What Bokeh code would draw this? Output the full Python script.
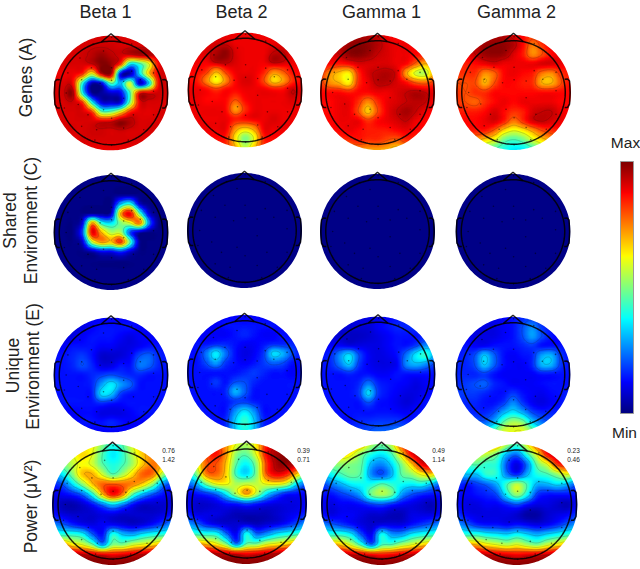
import numpy as np
from bokeh.plotting import figure
from bokeh.models import Range1d, LinearColorMapper, ColorBar, FixedTicker
from bokeh.core.properties import value
from bokeh.embed import file_html
from bokeh.resources import INLINE

COLUMN_TITLES = ["Beta 1", "Beta 2", "Gamma 1", "Gamma 2"]
ROW_LABELS = [["Genes (A)"], ["Shared", "Environment (C)"], ["Unique", "Environment (E)"], ["Power (μV²)"]]
POWER_SCALE = [["0.76", "1.42"], ["0.39", "0.71"], ["0.49", "1.14"], ["0.23", "0.46"]]
BAR_LABELS = ["Max", "Min"]

A_BETA1 = [
 [91,91,91,91,91,91,91,91,91,91,91,91,91],
 [91,91,91,91,92,92,92,91,91,91,91,91,91],
 [91,91,91,92,94,97,94,92,92,95,94,92,91],
 [91,91,91,91,92,99,97,80,35,42,60,88,91],
 [89,89,89,83,60,91,95,12,5,35,68,90,91],
 [91,91,88,40,5,10,45,30,58,8,35,88,91],
 [91,92,96,40,3,3,8,12,45,88,90,92,91],
 [91,91,92,83,40,10,8,10,50,89,91,91,91],
 [91,91,91,91,83,50,50,65,85,90,90,91,91],
 [91,91,91,91,91,91,92,98,95,91,91,91,91],
 [91,91,91,91,92,92,91,92,91,91,91,91,91],
 [89,89,89,91,91,91,91,91,91,91,89,89,89],
 [89,89,89,89,89,89,89,89,89,89,89,89,89]]
A_BETA2 = [
 [89,89,89,89,89,89,89,89,89,89,89,89,89],
 [89,89,89,91,91,89,89,89,89,89,89,89,89],
 [89,89,91,95,98,91,89,89,89,93,93,89,89],
 [89,89,89,95,95,91,89,89,89,95,93,89,89],
 [87,87,83,72,83,89,89,89,85,76,80,87,87],
 [87,85,74,62,74,87,91,89,80,66,72,83,87],
 [89,89,87,83,87,87,89,89,89,87,87,93,89],
 [89,89,87,87,87,80,87,89,89,89,89,91,89],
 [89,89,89,89,87,72,83,89,89,89,89,89,89],
 [89,89,89,89,89,85,87,89,89,91,89,89,89],
 [89,89,89,89,89,74,68,74,89,89,89,89,89],
 [87,87,87,87,85,65,50,62,85,87,87,87,87],
 [83,83,83,83,83,70,56,68,83,83,83,83,83]]
A_GAMMA1 = [
 [91,91,91,93,95,95,93,89,87,87,87,87,87],
 [91,91,93,97,99,98,95,91,89,89,87,87,87],
 [91,91,93,98,99,97,93,91,89,89,87,85,83],
 [89,87,85,87,91,91,91,91,89,87,78,70,78],
 [83,74,68,64,83,91,94,95,91,72,58,56,72],
 [83,74,70,64,83,89,94,94,91,87,80,78,83],
 [87,87,87,85,87,87,89,89,91,93,95,93,89],
 [87,87,89,89,83,74,83,89,91,93,94,93,87],
 [87,87,89,89,80,68,80,89,93,96,93,89,87],
 [87,87,89,89,89,83,87,89,91,93,89,87,87],
 [87,87,87,89,87,85,85,85,87,89,87,87,87],
 [83,83,83,83,85,83,83,80,78,83,83,83,83],
 [74,74,74,74,74,72,72,70,66,70,74,74,74]]
A_GAMMA2 = [
 [89,89,91,93,95,95,91,87,83,87,87,87,87],
 [89,91,93,97,98,98,95,87,76,83,89,87,87],
 [87,89,93,97,98,97,91,85,74,80,87,89,87],
 [85,85,87,89,91,89,89,89,89,91,91,89,87],
 [83,83,83,74,78,87,89,87,85,76,74,83,85],
 [80,80,80,70,80,87,87,85,83,70,70,80,87],
 [83,80,83,83,87,87,87,87,87,87,87,87,87],
 [83,80,78,83,87,89,87,89,89,89,89,87,87],
 [85,85,85,87,91,87,83,85,91,93,93,89,87],
 [87,87,87,89,91,85,76,83,91,93,91,89,87],
 [85,85,85,85,78,66,60,64,72,80,83,85,85],
 [80,76,72,66,60,48,44,48,58,66,72,76,80],
 [64,60,56,50,44,40,36,36,42,50,58,62,64]]
C_BETA1 = [
 [1,1,1,1,1,1,1,1,1,1,1,1,1],
 [1,1,1,1,1,1,1,1,1,1,1,1,1],
 [1,1,1,1,1,1,1,1,1,1,1,1,1],
 [1,1,1,1,1,1,1,30,40,8,1,1,1],
 [1,1,1,1,1,1,6,70,88,45,8,1,1],
 [1,1,1,10,70,40,35,50,60,75,25,1,1],
 [1,1,1,20,88,70,55,55,20,5,1,1,1],
 [1,1,1,8,55,72,68,82,45,3,1,1,1],
 [1,1,1,1,5,12,12,18,8,1,1,1,1],
 [1,1,1,1,1,1,1,1,1,1,1,1,1],
 [1,1,1,1,1,1,1,1,1,1,1,1,1],
 [1,1,1,1,1,1,1,1,1,1,1,1,1],
 [1,1,1,1,1,1,1,1,1,1,1,1,1]]
C_FLAT_ROW = [1,1,1,1,1,1,1,1,1,1,1,1,1]
C_BETA2 = [C_FLAT_ROW] * 13
C_GAMMA1 = [C_FLAT_ROW] * 13
C_GAMMA2 = [C_FLAT_ROW] * 13
E_BETA1 = [
 [12,12,12,12,12,12,12,12,12,12,12,12,12],
 [12,12,10,10,12,14,14,14,14,12,12,12,12],
 [12,10,10,12,14,14,14,12,10,12,12,12,12],
 [12,12,14,14,14,12,12,10,10,12,14,14,12],
 [14,14,16,18,14,8,8,9,12,20,22,16,14],
 [14,14,16,20,16,10,10,14,14,24,22,16,14],
 [14,14,14,14,16,18,20,18,16,16,14,14,14],
 [14,14,14,14,16,28,36,28,22,14,14,14,14],
 [14,14,14,14,15,34,32,18,14,14,14,14,14],
 [14,14,14,14,14,16,14,13,14,14,14,14,14],
 [12,12,12,13,13,10,10,10,12,14,14,14,14],
 [12,12,12,14,14,14,16,14,12,12,12,12,12],
 [12,12,12,12,12,12,12,12,12,12,12,12,12]]
E_BETA2 = [
 [12,12,12,12,12,12,12,12,12,12,12,12,12],
 [12,12,12,12,14,14,14,14,14,14,12,12,12],
 [12,12,12,12,12,14,16,14,12,12,14,12,12],
 [12,14,14,16,16,14,12,12,14,16,16,16,12],
 [14,14,24,36,24,14,10,12,18,34,30,20,14],
 [14,14,20,28,18,14,12,14,18,22,20,14,14],
 [14,14,14,14,14,14,16,18,16,14,14,12,14],
 [14,14,14,18,14,20,20,16,14,14,14,14,14],
 [14,14,14,14,16,30,22,14,14,14,14,14,14],
 [14,14,14,14,14,18,18,15,14,14,14,14,14],
 [12,14,14,14,14,26,34,26,14,14,14,14,12],
 [12,14,14,14,16,32,42,32,16,14,14,14,12],
 [12,14,14,14,16,32,40,32,16,14,14,14,12]]
E_GAMMA1 = [
 [10,10,10,10,10,10,10,12,14,16,18,18,18],
 [10,10,10,9,9,9,12,14,16,16,18,18,18],
 [10,10,8,7,7,8,10,12,14,14,14,16,18],
 [12,12,12,10,10,10,10,12,14,14,18,26,26],
 [14,16,26,34,20,12,10,11,14,24,36,42,28],
 [14,16,24,32,18,12,10,10,12,26,30,26,18],
 [14,14,14,16,14,14,12,12,14,14,14,14,14],
 [14,14,14,14,16,24,16,14,13,12,10,12,14],
 [14,14,14,14,18,34,18,14,12,10,10,12,14],
 [14,14,14,14,14,20,14,13,11,9,11,14,14],
 [16,14,14,14,14,14,14,14,13,12,14,14,16],
 [18,16,14,14,16,17,18,18,18,16,14,16,18],
 [22,20,18,18,18,20,22,22,24,22,18,20,22]]
E_GAMMA2 = [
 [12,12,12,12,12,12,14,16,18,16,14,12,12],
 [12,12,10,10,10,12,14,20,26,18,14,12,12],
 [12,12,10,10,10,12,14,20,28,20,14,12,12],
 [14,14,12,12,14,14,14,16,18,14,14,14,14],
 [14,16,20,32,22,14,12,14,16,28,30,18,14],
 [16,16,20,32,22,14,12,12,16,30,30,18,14],
 [16,16,16,18,14,12,12,12,12,14,14,14,14],
 [16,18,20,22,16,14,12,12,12,13,14,14,14],
 [18,18,18,16,14,14,18,14,12,11,13,14,16],
 [18,16,16,14,14,18,26,18,12,10,12,14,18],
 [20,18,16,16,20,30,36,30,20,16,16,16,20],
 [26,24,22,22,30,46,54,50,34,24,20,20,26],
 [32,28,28,34,46,58,60,60,50,36,26,26,32]]
P_BETA1 = [
 [50,50,52,60,62,50,40,45,60,70,75,75,70],
 [48,50,58,66,60,45,36,42,56,68,74,76,70],
 [40,48,56,62,58,46,40,44,54,68,76,70,60],
 [28,36,50,68,70,58,46,54,66,78,76,54,38],
 [16,20,34,50,68,78,80,78,74,66,50,26,18],
 [10,12,15,22,40,68,86,75,46,30,20,14,10],
 [10,6,5,8,14,24,34,26,14,8,8,8,10],
 [14,10,8,8,8,10,10,8,8,8,8,10,14],
 [26,22,16,12,10,12,12,10,8,10,14,20,28],
 [44,42,42,38,22,14,40,32,30,36,40,42,44],
 [70,75,65,60,48,28,50,50,58,62,66,72,72],
 [97,97,96,94,92,90,88,90,92,94,96,97,97],
 [99,99,99,99,99,99,99,99,99,99,99,99,99]]
P_BETA2 = [
 [60,65,80,82,72,60,55,65,85,92,92,88,80],
 [55,65,80,86,72,52,48,62,88,96,98,96,84],
 [46,60,78,80,68,46,38,52,82,96,98,92,72],
 [36,50,76,78,66,42,34,50,80,90,86,70,50],
 [22,30,50,62,62,54,56,56,62,64,58,36,22],
 [12,14,18,24,38,56,72,56,36,24,16,14,12],
 [12,8,8,10,14,16,20,16,12,10,10,10,12],
 [16,10,10,10,8,6,6,6,6,8,10,12,16],
 [28,22,14,10,8,8,8,6,8,10,14,20,28],
 [46,42,40,38,22,12,38,22,26,34,38,42,46],
 [72,72,68,62,48,24,46,48,58,62,66,72,72],
 [97,97,96,94,92,90,88,90,92,94,96,97,97],
 [99,99,99,99,99,99,99,99,99,99,99,99,99]]
P_GAMMA1 = [
 [62,64,68,72,68,54,48,56,80,90,94,90,80],
 [55,58,66,62,50,40,36,44,66,88,96,92,80],
 [44,50,52,50,46,30,26,34,50,68,88,90,70],
 [32,38,44,48,44,26,20,30,46,52,62,66,50],
 [18,24,30,36,38,40,46,42,38,36,38,30,20],
 [14,14,18,22,30,48,54,48,28,20,16,14,14],
 [12,10,12,12,14,18,20,16,12,10,8,6,12],
 [14,10,12,12,10,8,8,6,6,10,10,10,14],
 [26,22,18,14,10,8,10,10,10,14,18,22,28],
 [44,42,42,36,20,12,38,28,28,36,40,42,44],
 [70,72,68,58,42,24,44,46,54,60,66,70,72],
 [96,96,95,93,91,88,86,88,91,93,96,97,97],
 [99,99,99,99,99,99,99,99,99,99,99,99,99]]
P_GAMMA2 = [
 [58,62,68,74,70,54,44,60,80,90,92,86,70],
 [50,54,58,56,48,30,24,42,62,86,94,90,76],
 [40,44,46,42,40,20,10,24,48,60,82,84,62],
 [28,32,32,42,40,24,16,30,40,44,52,60,48],
 [18,14,18,22,30,44,56,44,30,30,34,30,20],
 [14,12,14,16,20,38,52,38,18,14,14,14,14],
 [14,10,10,12,12,16,20,14,10,10,8,6,12],
 [18,12,10,10,10,10,8,4,4,8,10,12,18],
 [28,22,16,14,14,12,14,12,10,12,16,22,28],
 [44,42,42,38,36,34,38,34,30,34,38,42,44],
 [70,72,70,64,60,56,60,54,50,58,64,70,70],
 [96,96,95,93,91,90,88,90,91,93,96,97,97],
 [99,99,99,99,99,99,99,99,99,99,99,99,99]]

ELECTRODE_X = [0.01,-0.31,0.36,-0.54,-0.13,0.01,-0.34,0.36,-0.75,-0.51,0.51,0.74,0.01,-0.19,0.22,0.74,-0.78,-0.57,-0.13,0.22,-0.40,0.01,0.39,0.74,-0.51,-0.25,0.22,0.57,0.01,-0.28,0.30,-0.81]
ELECTRODE_Y = [0.97,0.85,0.85,0.61,0.73,0.44,0.44,0.38,0.35,0.23,0.23,0.35,0.22,0.17,0.20,0.03,0.0,-0.20,-0.29,-0.09,-0.38,-0.44,-0.38,-0.38,-0.58,-0.64,-0.61,-0.64,-0.91,-0.82,-0.82,-0.26]

GRIDS = [[A_BETA1, A_BETA2, A_GAMMA1, A_GAMMA2],
         [C_BETA1, C_BETA2, C_GAMMA1, C_GAMMA2],
         [E_BETA1, E_BETA2, E_GAMMA1, E_GAMMA2],
         [P_BETA1, P_BETA2, P_GAMMA1, P_GAMMA2]]

# layout (reference pixels): map centres and radii
CENTERS = [[(110.5, 92.5), (244.5, 89.5), (377, 92), (513, 92)],
           [(110.5, 232), (244, 230), (377, 231), (512.5, 231)],
           [(110.5, 374.5), (244, 372), (377.5, 373.5), (512.5, 374)],
           [(112, 504), (246, 503), (381, 504), (516.5, 504)]]
RADII = [57.5, 57.5, 57.5, 60.5]
W, H = 640, 569


def jet_palette(n=256):
    t = np.linspace(0, 1, n)
    r = np.clip(np.minimum(4 * t - 1.5, -4 * t + 4.5), 0, 1)
    g = np.clip(np.minimum(4 * t - 0.5, -4 * t + 3.5), 0, 1)
    b = np.clip(np.minimum(4 * t + 0.5, -4 * t + 2.5), 0, 1)
    return ["#%02x%02x%02x" % (int(a * 255), int(c * 255), int(d * 255)) for a, c, d in zip(r, g, b)]


def spline_matrix(n_out, n_in=13):
    t = np.linspace(0, n_in - 1, n_out)
    m = np.zeros((n_out, n_in))
    for k, tk in enumerate(t):
        i = min(int(tk), n_in - 2)
        f = tk - i
        ws = [(-f**3 + 2*f*f - f) / 2, (3*f**3 - 5*f*f + 2) / 2, (-3*f**3 + 4*f*f + f) / 2, (f**3 - f*f) / 2]
        for off, wt in zip((-1, 0, 1, 2), ws):
            m[k, int(np.clip(i + off, 0, n_in - 1))] += wt
    return m


def disk_field(grid, n=201):
    m = spline_matrix(n)
    z = np.clip(m @ np.array(grid, float) @ m.T, 0, 100)
    c = np.linspace(-1, 1, n)
    z = z[::-1].copy()          # first image row is the bottom
    return c, z


p = figure(width=W, height=H, x_range=Range1d(0, W), y_range=Range1d(0, H),
           output_backend="svg", toolbar_location=None, min_border=0,
           outline_line_color=None, background_fill_color="white")
p.axis.visible = False
p.grid.visible = False

mapper = LinearColorMapper(palette=jet_palette(), low=0, high=100, nan_color="rgba(0,0,0,0)")
CONTOUR_LEVELS = [20, 32, 45, 60, 70, 80, 93]
FONT = value("Liberation Sans")
INK = "#222222"

theta = np.linspace(0, 2 * np.pi, 180)
HEAD_R = 0.90
NOSE_U = [-0.17, 0.0, 0.17]
NOSE_V = [0.885, 1.03, 0.885]
EAR_U = [-0.89, -0.94, -0.975, -0.985, -0.975, -0.94, -0.89]
EAR_V = [0.23, 0.235, 0.2, 0.0, -0.2, -0.26, -0.26]

for r_i, row in enumerate(GRIDS):
    R = RADII[r_i]
    for c_i, grid in enumerate(row):
        cx, cy = CENTERS[r_i][c_i]
        cy_d = H - cy
        c, z = disk_field(grid)
        p.image(image=[z], x=cx - R, y=cy_d - R, dw=2 * R, dh=2 * R, color_mapper=mapper)
        # white mask with a round hole trims the square field to a disk
        S = R + 1
        mask_x = np.r_[cx - S, cx + S, cx + S, cx - S, cx - S, cx + R * np.cos(-theta - np.pi)]
        mask_y = np.r_[cy_d - S, cy_d - S, cy_d + S, cy_d + S, cy_d - S, cy_d + R * np.sin(-theta - np.pi)]
        p.patch(mask_x, mask_y, fill_color="white", line_color=None)
        if np.ptp(grid) > 0:
            xs, ys = cx + R * c, cy_d + R * c
            xx, yy = np.meshgrid(c, c)
            zm = np.ma.masked_where(xx * xx + yy * yy > 1, z)
            lv = [l for l in CONTOUR_LEVELS if zm.min() < l < zm.max()]
            if len(lv) >= 2:
                p.contour(xs, ys, zm, lv, line_color="#222222", line_alpha=0.3, line_width=0.6)
        lw = 1.5
        a = 0.85
        p.line(cx + R * HEAD_R * np.cos(theta), cy_d + R * HEAD_R * np.sin(theta), line_color="black", line_width=lw, line_alpha=a)
        p.line(cx + R * np.array(NOSE_U), cy_d + R * np.array(NOSE_V), line_color="black", line_width=lw, line_alpha=a)
        p.line(cx + R * np.array(EAR_U), cy_d + R * np.array(EAR_V), line_color="black", line_width=lw, line_alpha=a)
        p.line(cx - R * np.array(EAR_U), cy_d + R * np.array(EAR_V), line_color="black", line_width=lw, line_alpha=a)
        p.scatter(cx + R * np.array(ELECTRODE_X), cy_d + R * np.array(ELECTRODE_Y), size=1.6, color="black", alpha=0.5, line_width=0)

# column titles
TITLE_X = [105, 241, 381, 516]
p.text(TITLE_X, [H - 11] * 4, text=COLUMN_TITLES, text_font=FONT, text_font_size="18px",
       text_align="center", text_baseline="middle", text_color=INK)

# row labels
label_pos = [[(25, 77)], [(9, 220), (30, 220)], [(12, 365), (32, 366)], [(30, 506)]]
for labels, pos in zip(ROW_LABELS, label_pos):
    for t, (x, y) in zip(labels, pos):
        p.text([x], [H - y], text=[t], angle=np.pi / 2, text_font=FONT, text_font_size="17.5px",
               text_align="center", text_baseline="middle", text_color=INK)

# power scale numbers
scale_x = [168, 303, 438, 573]
for pair, x in zip(POWER_SCALE, scale_x):
    p.text([x, x], [H - 450, H - 459], text=pair, text_font=FONT, text_font_size="6.5px",
           text_align="center", text_baseline="middle", text_color=INK)

# colour bar
bar = ColorBar(color_mapper=mapper, width=13, height=252, location=(620, H - 413), padding=0, margin=0,
               ticker=FixedTicker(ticks=[]), major_tick_line_color=None, minor_tick_line_color=None,
               bar_line_color="#999999", bar_line_width=1, border_line_color=None, background_fill_color=None)
p.add_layout(bar, "center")
p.text([625, 624], [H - 142, H - 432], text=BAR_LABELS, text_font=FONT, text_font_size="15.5px",
       text_align="center", text_baseline="middle", text_color=INK)

open("out.html", "w").write(file_html(p, INLINE))
